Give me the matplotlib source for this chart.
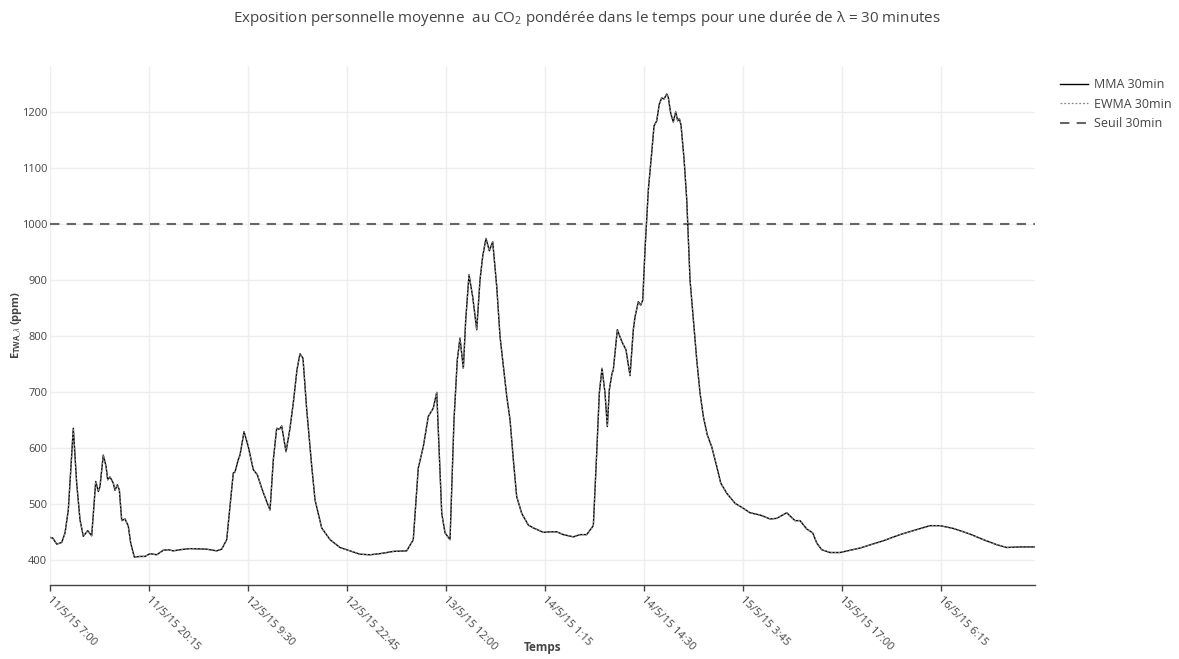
import matplotlib
matplotlib.use("Agg")
import matplotlib.pyplot as plt
import matplotlib.dates as mdates
import matplotlib.transforms as mtransforms
from matplotlib.ticker import FixedLocator, FuncFormatter
from datetime import datetime, timedelta

plt.rcParams['font.family'] = ['Open Sans', 'DejaVu Sans']
plt.rcParams['mathtext.fontset'] = 'custom'
plt.rcParams['mathtext.rm'] = 'Open Sans'
plt.rcParams['mathtext.bf'] = 'Open Sans:bold'
plt.rcParams['mathtext.it'] = 'Open Sans:italic'

# ---- data ----
start_time = "2015-05-11 07:00"
hours = [0.0, 0.36, 0.90, 1.57, 2.01, 2.45, 3.12, 3.57, 4.02, 4.46, 5.05, 5.58, 6.12, 6.47, 6.69,
         7.13, 7.50, 7.72, 8.03, 8.47, 8.70, 9.01, 9.28, 9.60, 10.04, 10.48, 10.80, 11.28, 12.05, 12.72,
         13.38, 14.28, 15.16, 15.83, 16.50, 17.40, 18.74, 20.97, 22.31, 22.98, 23.65, 24.09, 24.53, 24.76,
         25.20, 25.43, 25.97, 26.54, 27.21, 27.75, 28.33, 29.00, 29.45, 29.89, 30.34, 30.69, 31.01, 31.59,
         32.12, 32.56, 33.06, 33.46, 33.86, 34.36, 35.03, 35.47, 36.36, 37.48, 38.81, 39.71, 41.49, 42.83,
         44.17, 45.95, 47.74, 48.62, 49.29, 49.96, 50.63, 51.30, 51.76, 52.10, 52.43, 52.87, 53.54, 54.07,
         54.51, 54.87, 55.32, 55.64, 56.08, 56.57, 57.11, 57.55, 57.91, 58.35, 58.80, 59.25, 59.79, 60.23,
         61.13, 61.57, 62.01, 62.46, 63.13, 64.02, 64.69, 66.02, 66.92, 67.82, 68.70, 70.04, 70.94, 71.83,
         72.72, 73.17, 73.52, 73.88, 74.28, 74.59, 74.86, 75.22, 75.39, 75.93, 76.52, 77.09, 77.63, 78.07,
         78.30, 78.74, 79.06, 79.33, 79.64, 80.08, 80.53, 80.84, 81.20, 81.55, 81.87, 82.18, 82.54, 82.75,
         83.07, 83.42, 83.74, 84.01, 84.23, 84.45, 84.86, 85.22, 85.66, 86.10, 86.56, 87.00, 87.44, 87.97,
         88.56, 89.23, 89.77, 90.57, 91.68, 92.79, 93.69, 95.03, 96.37, 97.26, 98.60, 99.71, 100.38, 101.28,
         102.08, 102.62, 103.28, 104.40, 105.73, 108.41, 111.53, 113.76, 116.00, 117.78, 119.12, 120.90,
         123.13, 124.92, 126.71, 128.05, 129.83, 131.83]
mma_30 = [440, 439, 428, 431, 448, 489, 635, 537, 471, 442, 452, 443, 540, 522, 531,
          587, 567, 543, 548, 537, 524, 534, 525, 470, 473, 460, 430, 405, 406, 406,
          411, 409, 417, 418, 416, 418, 420, 419, 416, 419, 436, 495, 555, 557,
          579, 587, 629, 602, 561, 552, 528, 504, 489, 579, 635, 633, 639, 593,
          635, 680, 740, 768, 760, 668, 567, 507, 457, 436, 422, 418, 410, 409,
          411, 415, 416, 436, 564, 602, 656, 671, 699, 591, 483, 448, 436, 650,
          757, 796, 742, 829, 909, 870, 811, 900, 942, 974, 952, 968, 888, 799,
          692, 650, 579, 513, 483, 462, 457, 449, 450, 450, 445, 441, 445, 445,
          461, 591, 698, 742, 698, 638, 704, 733, 739, 811, 790, 775, 729, 811,
          834, 861, 855, 864, 955, 1061, 1127, 1175, 1184, 1214, 1225, 1223, 1232, 1226,
          1198, 1182, 1200, 1184, 1188, 1177, 1116, 1043, 900, 829, 757, 698, 656, 623,
          602, 567, 537, 519, 501, 492, 484, 480, 473, 474, 484, 470, 470, 455,
          448, 430, 418, 413, 413, 421, 434, 445, 454, 461, 461, 456,
          446, 436, 427, 422, 423, 423]
ewma_30 = list(mma_30)
seuil_30 = 1000
tick_step_minutes = 13 * 60 + 15
n_ticks = 10

t0 = datetime.strptime(start_time, "%Y-%m-%d %H:%M")
times = [t0 + timedelta(hours=h) for h in hours]

# ---- figure ----
W, H = 1179, 659
fig = plt.figure(figsize=(W / 100, H / 100), dpi=100)
ax_left, ax_right, ax_top, ax_bottom = 50, 1035, 66, 585
ax = fig.add_axes([ax_left / W, 1 - ax_bottom / H, (ax_right - ax_left) / W, (ax_bottom - ax_top) / H])

ax.plot(times, mma_30, color='black', lw=1.0, label='MMA 30min', zorder=3)
ax.plot(times, ewma_30, color='#888888', lw=0.9, ls=(0, (1.5, 1.5)), label='EWMA 30min', zorder=4)
ax.axhline(seuil_30, color='#666666', lw=1.5, dashes=(4.5, 3.5), label='Seuil 30min', zorder=2)

ax.set_xlim(times[0], times[-1])
ax.set_ylim(355, 1282)

tick_times = [t0 + timedelta(minutes=tick_step_minutes * i) for i in range(n_ticks)]
ax.xaxis.set_major_locator(FixedLocator([mdates.date2num(t) for t in tick_times]))

def fmt(v, pos):
    d = mdates.num2date(v)
    return f"{d.day}/{d.month}/{d.strftime('%y')} {d.hour}:{d.minute:02d}"

ax.xaxis.set_major_formatter(FuncFormatter(fmt))
ax.set_yticks([400, 500, 600, 700, 800, 900, 1000, 1100, 1200])

for s in ['top', 'right', 'left']:
    ax.spines[s].set_visible(False)
ax.spines['bottom'].set_color('#444444')
ax.spines['bottom'].set_linewidth(1.0)

ax.grid(True, color='#eeeeee', lw=1.0, zorder=0)
ax.set_axisbelow(True)
ax.tick_params(axis='y', length=0, pad=2, labelsize=8, labelcolor='#444444')
ax.tick_params(axis='x', length=4, width=1, color='#444444', direction='out', labelsize=8,
               labelcolor='#444444', pad=3)
shift = mtransforms.ScaledTranslation(3 / 100, 0, fig.dpi_scale_trans)
for lab in ax.get_xticklabels():
    lab.set_rotation(-45)
    lab.set_ha('left')
    lab.set_va('top')
    lab.set_rotation_mode('anchor')
    lab.set_transform(lab.get_transform() + shift)

fig.text(543 / W, 1 - 648 / H, 'Temps', ha='center', va='center', fontsize=8.5,
         fontweight='bold', color='#444444')
fig.text(17 / W, 1 - 325 / H, r'$\mathbf{E}_{\mathbf{TWA}\_\lambda}$ (ppm)', rotation=90, ha='center',
         va='center', fontsize=8, fontweight='bold', color='#444444')
fig.text(587 / W, 1 - 18 / H,
         'Exposition personnelle moyenne  au CO$_2$ pondérée dans le temps pour une durée de λ = 30 minutes',
         ha='center', va='center', fontsize=10.9, color='#444444')

leg = ax.legend(loc='upper left', bbox_to_anchor=(1055 / W, 1 - 73 / H), bbox_transform=fig.transFigure,
                frameon=False, fontsize=9, handlelength=2.2, handletextpad=0.5, labelspacing=0.52,
                borderaxespad=0)
for t in leg.get_texts():
    t.set_color('#444444')

fig.savefig('out.png', dpi=100)
